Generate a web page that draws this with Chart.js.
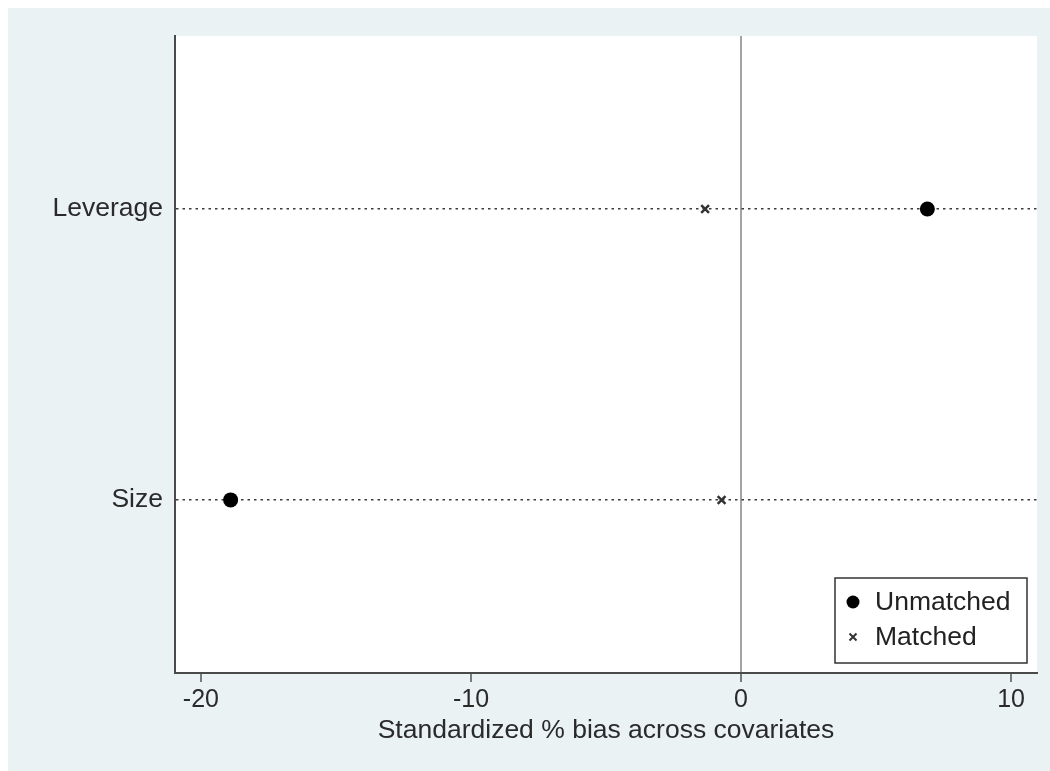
<!DOCTYPE html>
<html>
<head>
<meta charset="utf-8">
<script src="https://cdn.jsdelivr.net/npm/chart.js@4.4.1/dist/chart.umd.min.js"></script>
<style>
  html, body { margin: 0; padding: 0; background: #eaf2f3; overflow: hidden; }
  #topStrip { position: absolute; left: 0; top: 0; width: 1050px; height: 8px; background: #ffffff; }
  #leftStrip { position: absolute; left: 0; top: 0; width: 8px; height: 771px; background: #ffffff; }
  #wrap { position: absolute; left: 8px; top: 8px; width: 1042px; height: 763px; background: #eaf2f3; }
  canvas { display: block; }
</style>
</head>
<body>
<div id="topStrip"></div>
<div id="leftStrip"></div>
<div id="wrap"><canvas id="biasChart" width="1042" height="763"></canvas></div>
<script>
// covariates, bottom to top
var covariates = ['Size', 'Leverage'];
var unmatchedBias = [-18.9, 6.9];
var matchedBias = [-0.72, -1.33];
var xTicks = [-20, -10, 0, 10];

function toPoints(values) {
    return values.map(function(v, i) { return { x: v, y: i + 1 }; });
}

var labelFont = '"Liberation Sans", Arial, sans-serif';

// white plot region
var plotBackground = {
    id: 'plotBackground',
    beforeDraw: function(chart) {
        var a = chart.chartArea, ctx = chart.ctx;
        ctx.save();
        ctx.fillStyle = '#ffffff';
        ctx.fillRect(a.left, a.top, a.right - a.left, a.bottom - a.top);
        ctx.restore();
    }
};

// boxed legend in the lower right corner of the plot
var boxLegend = {
    id: 'boxLegend',
    afterDraw: function(chart) {
        var a = chart.chartArea, ctx = chart.ctx;
        var w = 192, h = 85;
        var x0 = a.right - 10 - w, y0 = a.bottom - 10 - h;
        ctx.save();
        ctx.fillStyle = '#ffffff';
        ctx.fillRect(x0, y0, w, h);
        ctx.strokeStyle = '#333333';
        ctx.lineWidth = 1.5;
        ctx.strokeRect(x0, y0, w, h);
        chart.data.datasets.forEach(function(ds, i) {
            var cy = y0 + 24 + i * 35;
            var cx = x0 + 18;
            if (ds.pointStyle === 'circle') {
                ctx.fillStyle = ds.backgroundColor;
                ctx.beginPath();
                ctx.arc(cx, cy, 6.5, 0, Math.PI * 2);
                ctx.fill();
            } else {
                ctx.strokeStyle = ds.borderColor;
                ctx.lineWidth = 2;
                ctx.beginPath();
                ctx.moveTo(cx - 3.5, cy - 3.5); ctx.lineTo(cx + 3.5, cy + 3.5);
                ctx.moveTo(cx + 3.5, cy - 3.5); ctx.lineTo(cx - 3.5, cy + 3.5);
                ctx.stroke();
            }
            ctx.fillStyle = '#222222';
            ctx.font = '26.5px ' + labelFont;
            ctx.textBaseline = 'middle';
            ctx.textAlign = 'left';
            ctx.fillText(ds.label, x0 + 40, cy + 1);
        });
        ctx.restore();
    }
};

var ctx = document.getElementById('biasChart').getContext('2d');
var biasChart = new Chart(ctx, {
    type: 'scatter',
    data: {
        datasets: [{
            label: 'Unmatched',
            data: toPoints(unmatchedBias),
            pointStyle: 'circle',
            pointRadius: 7.5,
            backgroundColor: '#000000',
            borderColor: '#000000',
            borderWidth: 0
        },
        {
            label: 'Matched',
            data: toPoints(matchedBias),
            pointStyle: 'crossRot',
            pointRadius: 5.5,
            backgroundColor: '#333333',
            borderColor: '#333333',
            borderWidth: 2.5
        }]
    },
    options: {
        responsive: false,
        animation: false,
        devicePixelRatio: 1,
        layout: { padding: { left: 0, top: 26, right: 13, bottom: 0 } },
        plugins: {
            legend: { display: false },
            tooltip: { enabled: false }
        },
        scales: {
            x: {
                type: 'linear',
                min: -20.96,
                max: 10.96,
                afterBuildTicks: function(scale) {
                    scale.ticks = xTicks.map(function(v) { return { value: v }; });
                },
                afterFit: function(scale) { scale.height = 98; },
                grid: {
                    color: function(c) { return c.tick && c.tick.value === 0 ? '#a3a3a3' : 'rgba(0,0,0,0)'; },
                    lineWidth: 2,
                    tickColor: '#555555',
                    tickLength: 9,
                    tickWidth: 1.5
                },
                border: { color: '#4a4a4a', width: 2 },
                ticks: {
                    color: '#2a2a2a',
                    padding: 3,
                    maxRotation: 0,
                    font: { family: labelFont, size: 25 }
                },
                title: {
                    display: true,
                    text: 'Standardized % bias across covariates',
                    color: '#2a2a2a',
                    padding: { top: 0, bottom: 24 },
                    font: { family: labelFont, size: 26.5 }
                }
            },
            y: {
                type: 'linear',
                min: 0.405,
                max: 2.595,
                afterBuildTicks: function(scale) {
                    scale.ticks = covariates.map(function(c, i) { return { value: i + 1 }; });
                },
                afterFit: function(scale) { scale.width = 167; },
                grid: {
                    color: '#3a3a3a',
                    lineWidth: 1.5,
                    drawTicks: false
                },
                border: { color: '#4a4a4a', width: 2, dash: [2.5, 4] },
                ticks: {
                    color: '#2a2a2a',
                    padding: 12,
                    font: { family: labelFont, size: 26.5 },
                    callback: function(value) { return covariates[value - 1]; }
                }
            }
        }
    },
    plugins: [plotBackground, boxLegend]
});
</script>
</body>
</html>
